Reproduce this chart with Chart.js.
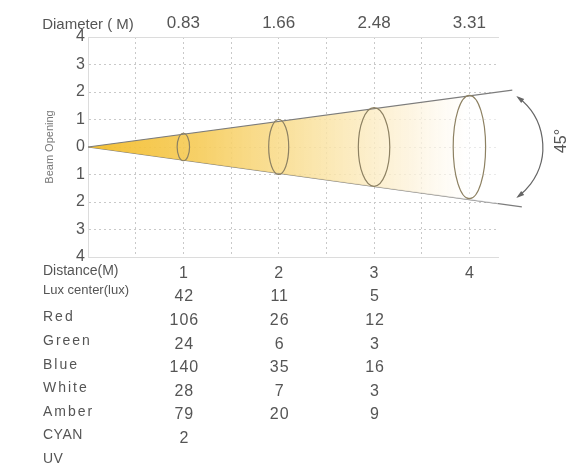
<!DOCTYPE html>
<html>
<head>
<meta charset="utf-8">
<script src="https://cdn.jsdelivr.net/npm/chart.js@4.4.1/dist/chart.umd.min.js"></script>
<style>
  html, body { margin: 0; padding: 0; background: #fff; }
  #wrap { width: 582px; height: 470px; }
</style>
</head>
<body>
<div id="wrap"><canvas id="beamChart"></canvas></div>
<script>
// distance (m) and beam diameter (m) at that distance
const distances = [1, 2, 3, 4];
const diameters = ['0.83', '1.66', '2.48', '3.31'];

// beam edges as drawn in the diagram
const beamTopX = [0, 4.45];
const beamTopY = [0, 2.07];
const beamBottomX = [0, 4.55];
const beamBottomY = [0, -2.18];

// beam cross sections at each distance (half height / half width, axis units)
const ellipseHalfHeight = [0.5, 1.0, 1.43, 1.88];
const ellipseHalfWidth = [0.065, 0.105, 0.165, 0.17];

// photometric table
const rowNames = ['Lux center(lux)', 'Red', 'Green', 'Blue', 'White', 'Amber', 'CYAN', 'UV'];
const luxCenter = [42, 11, 5];
const red = [106, 26, 12];
const green = [24, 6, 3];
const blue = [140, 35, 16];
const white = [28, 7, 3];
const amber = [79, 20, 9];
const cyan = [2];
const uv = [];
const rows = [luxCenter, red, green, blue, white, amber, cyan, uv];

// gridline positions on the distance axis
const xGrid = [0, 0.5, 1, 1.5, 2, 2.5, 3, 3.5, 4];

const FONT = '"Liberation Sans", Arial, sans-serif';
Chart.defaults.font.family = FONT;
Chart.defaults.color = '#555';

const GRID = '#c9c9c9';
const CLEAR = 'rgba(0,0,0,0)';

function beamGradient(c) {
    const chart = c.chart;
    if (!chart.chartArea) return CLEAR;
    const xs = chart.scales.x;
    const g = chart.ctx.createLinearGradient(xs.getPixelForValue(0), 0, xs.getPixelForValue(4), 0);
    g.addColorStop(0, 'rgba(243,188,40,0.95)');
    g.addColorStop(0.3, 'rgba(246,204,90,0.9)');
    g.addColorStop(0.6, 'rgba(250,226,160,0.85)');
    g.addColorStop(0.85, 'rgba(253,243,220,0.8)');
    g.addColorStop(1, 'rgba(255,255,255,0.6)');
    return g;
}

const extras = {
    id: 'beamExtras',
    afterDatasetsDraw(chart) {
        // ellipses (beam cross sections)
        const {ctx, scales: {x, y}} = chart;
        const cy = y.getPixelForValue(0);
        ctx.save();
        ctx.strokeStyle = '#8d8162';
        ctx.lineWidth = 1.2;
        distances.forEach((d, i) => {
            const cx = x.getPixelForValue(d);
            const rx = x.getPixelForValue(d + ellipseHalfWidth[i]) - cx;
            const ry = cy - y.getPixelForValue(ellipseHalfHeight[i]);
            ctx.beginPath();
            ctx.ellipse(cx, cy, rx, ry, 0, 0, Math.PI * 2);
            ctx.stroke();
        });
        ctx.restore();
    },
    afterDraw(chart) {
        const {ctx, chartArea, scales: {x, y}} = chart;
        const left = chartArea.left - 45;
        ctx.save();

        // angle arc with arrows
        const cx = x.getPixelForValue(4.12);
        const cy = y.getPixelForValue(0);
        const r = 62;
        const a = 0.93;
        ctx.strokeStyle = '#666';
        ctx.fillStyle = '#666';
        ctx.lineWidth = 1.2;
        ctx.beginPath();
        ctx.arc(cx, cy, r, -a, a);
        ctx.stroke();
        const arrow = (th, dir) => {
            const px = cx + r * Math.cos(th), py = cy + r * Math.sin(th);
            const tx = -Math.sin(th) * dir, ty = Math.cos(th) * dir;
            const nx = -ty, ny = tx;
            ctx.beginPath();
            ctx.moveTo(px + tx * 2, py + ty * 2);
            ctx.lineTo(px - tx * 6 + nx * 2.5, py - ty * 6 + ny * 2.5);
            ctx.lineTo(px - tx * 6 - nx * 2.5, py - ty * 6 - ny * 2.5);
            ctx.closePath();
            ctx.fill();
        };
        arrow(-a, -1);
        arrow(a, 1);

        ctx.save();
        ctx.translate(cx + r + 19, cy - 6);
        ctx.rotate(-Math.PI / 2);
        ctx.fillStyle = '#555';
        ctx.font = '16px ' + FONT;
        ctx.textAlign = 'center';
        ctx.textBaseline = 'middle';
        ctx.fillText('45°', 0, 0);
        ctx.restore();

        // table under the axis
        ctx.textBaseline = 'middle';
        ctx.fillStyle = '#555';
        ctx.textAlign = 'left';
        ctx.font = '14px ' + FONT;
        ctx.fillText('Distance(M)', left, chartArea.bottom + 14);

        const top = chartArea.bottom + 40;
        const step = 23.6;
        rows.forEach((vals, r) => {
            const rowY = top + r * step;
            ctx.textAlign = 'left';
            if (r === 0) {
                ctx.font = '13px ' + FONT;
                ctx.letterSpacing = '0px';
                ctx.fillText(rowNames[r], left, rowY - 7);
            } else {
                ctx.font = '14px ' + FONT;
                ctx.letterSpacing = r === 6 || r === 7 ? '0.5px' : '2px';
                ctx.fillText(rowNames[r], left, rowY - 3);
            }
            ctx.letterSpacing = '1px';
            ctx.font = '16px ' + FONT;
            ctx.textAlign = 'center';
            vals.forEach((v, i) => {
                ctx.fillText(String(v), x.getPixelForValue(distances[i]) + 1, rowY);
            });
        });
        ctx.letterSpacing = '0px';
        ctx.restore();
    }
};

new Chart(document.getElementById('beamChart'), {
    type: 'scatter',
    data: {
        datasets: [{
            data: beamTopX.map((v, i) => ({x: v, y: beamTopY[i]})),
            showLine: true,
            borderColor: '#7c7c7c',
            borderWidth: 1.2,
            pointRadius: 0,
            fill: '+1',
            backgroundColor: beamGradient,
            clip: false
        }, {
            data: beamBottomX.map((v, i) => ({x: v, y: beamBottomY[i]})),
            showLine: true,
            borderColor: '#7c7c7c',
            borderWidth: 1.2,
            pointRadius: 0,
            fill: false,
            clip: false
        }]
    },
    options: {
        animation: false,
        responsive: true,
        maintainAspectRatio: false,
        layout: {padding: {left: 0, right: 84, top: 0, bottom: 0}},
        plugins: {
            legend: {display: false},
            tooltip: {enabled: false}
        },
        scales: {
            x: {
                type: 'linear',
                position: 'bottom',
                min: 0,
                max: 4.3,
                afterBuildTicks: s => { s.ticks = xGrid.map(v => ({value: v})); },
                afterFit: s => { s.height = 213; },
                grid: {
                    drawTicks: false,
                    color: c => (c.tick && c.tick.value > 0) ? GRID : CLEAR
                },
                border: {display: true, color: '#dcdcdc', dash: [2, 3]},
                ticks: {
                    padding: 7,
                    autoSkip: false,
                    maxRotation: 0,
                    font: {size: 16},
                    color: '#555',
                    callback: v => distances.includes(v) ? String(v) : ''
                }
            },
            x2: {
                type: 'linear',
                position: 'top',
                min: 0,
                max: 4.3,
                afterBuildTicks: s => { s.ticks = [0].concat(distances).map(v => ({value: v})); },
                afterFit: s => { s.height = 37; },
                grid: {display: false, drawTicks: false},
                border: {display: true, color: '#dcdcdc'},
                ticks: {
                    padding: 3,
                    autoSkip: false,
                    maxRotation: 0,
                    color: '#555',
                    font: c => ({size: c.tick && c.tick.value === 0 ? 15 : 17}),
                    callback: v => v === 0 ? 'Diameter ( M)' : (distances.includes(v) ? diameters[distances.indexOf(v)] : '')
                }
            },
            y: {
                min: -4,
                max: 4,
                afterFit: s => { s.width = 88; },
                grid: {
                    drawTicks: false,
                    color: c => (c.tick && Math.abs(c.tick.value) === 4) ? CLEAR : GRID
                },
                border: {display: true, color: '#dcdcdc', dash: [2, 3]},
                ticks: {
                    stepSize: 1,
                    padding: 3,
                    font: {size: 16},
                    color: '#555',
                    callback: v => Math.abs(v)
                },
                title: {
                    display: true,
                    text: 'Beam Opening',
                    font: {size: 11},
                    color: '#777',
                    padding: {top: 43, bottom: 0}
                }
            }
        }
    },
    plugins: [extras]
});
</script>
</body>
</html>
